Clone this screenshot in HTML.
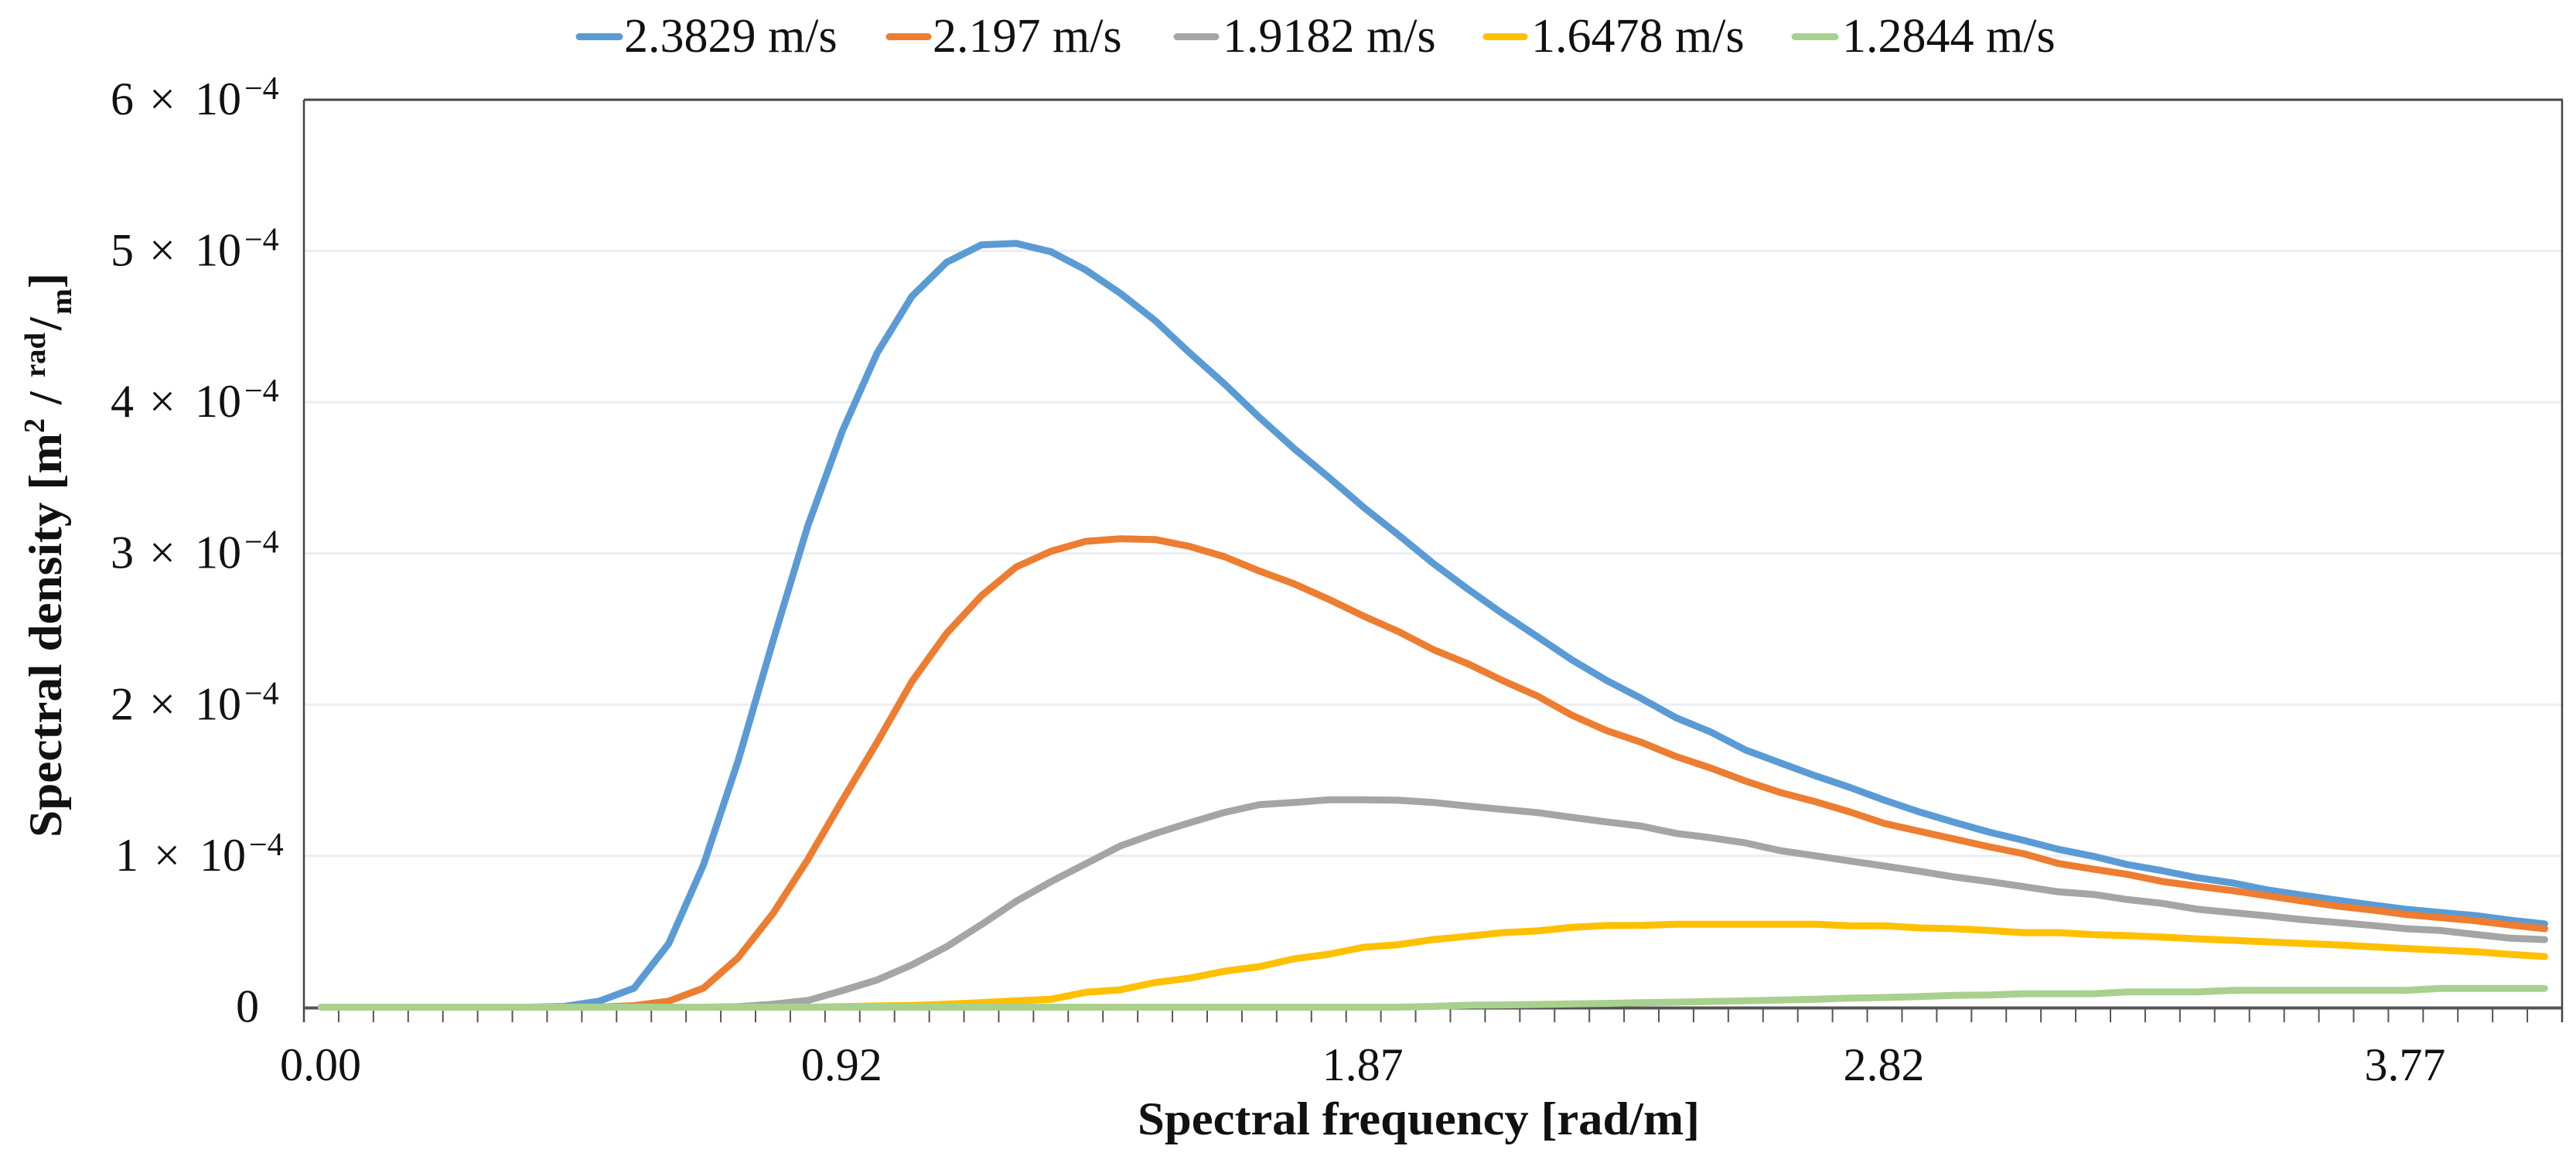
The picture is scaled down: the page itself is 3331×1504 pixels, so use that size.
<!DOCTYPE html>
<html lang="en">
<head>
<meta charset="utf-8">
<title>Spectral density vs spectral frequency</title>
<style>
html,body{margin:0;padding:0;background:#fff;}
svg{display:block;}
text{font-family:"Liberation Serif",serif;fill:#111;}
</style>
</head>
<body>
<svg id="chart" xmlns="http://www.w3.org/2000/svg" width="3331" height="1504" viewBox="0 0 3331 1504">
  <rect x="0" y="0" width="3331" height="1504" fill="#ffffff"/>
  <g id="grid"></g>
  <g id="axes"></g>
  <g id="series"></g>
  <g id="ylabels"></g>
  <g id="xlabels"></g>

  <g>
    <g>
      <line x1="749" x2="801" y1="47.5" y2="47.5" stroke="#5b9bd5" stroke-width="9" stroke-linecap="round"/>
      <text x="807" y="67" font-size="62">2.3829 m/s</text>
    </g>
    <g>
      <line x1="1150" x2="1200" y1="47.5" y2="47.5" stroke="#ed7d31" stroke-width="9" stroke-linecap="round"/>
      <text x="1206" y="67" font-size="62">2.197 m/s</text>
    </g>
    <g>
      <line x1="1522" x2="1572" y1="47.5" y2="47.5" stroke="#a5a5a5" stroke-width="9" stroke-linecap="round"/>
      <text x="1581" y="67" font-size="62">1.9182 m/s</text>
    </g>
    <g>
      <line x1="1922" x2="1971" y1="47.5" y2="47.5" stroke="#ffc000" stroke-width="9" stroke-linecap="round"/>
      <text x="1980" y="67" font-size="62">1.6478 m/s</text>
    </g>
    <g>
      <line x1="2321" x2="2373" y1="47.5" y2="47.5" stroke="#a9d18e" stroke-width="9" stroke-linecap="round"/>
      <text x="2382" y="67" font-size="62">1.2844 m/s</text>
    </g>
  </g>

  <text x="1471" y="1467" font-size="60" font-weight="bold" textLength="727" lengthAdjust="spacingAndGlyphs">Spectral frequency [rad/m]</text>

  <g transform="translate(79,1083) rotate(-90)" font-weight="bold">
    <text x="0" y="0" font-size="60" font-weight="bold" textLength="523" lengthAdjust="spacingAndGlyphs">Spectral density [m</text>
    <text x="523" y="-22" font-size="38" font-weight="bold">2</text>
    <text x="560" y="0" font-size="60" font-weight="bold">/</text>
    <text x="595" y="-21" font-size="38" font-weight="bold" textLength="58" lengthAdjust="spacingAndGlyphs">rad</text>
    <text x="656" y="0" font-size="60" font-weight="bold">/</text>
    <text x="676" y="13" font-size="38" font-weight="bold" textLength="34" lengthAdjust="spacingAndGlyphs">m</text>
    <text x="710" y="0" font-size="60" font-weight="bold">]</text>
  </g>
</svg>

<script>
var categoryCount = 65;
var xLabelIndexes = [0, 15, 30, 45, 60];
var xLabelTexts = ['0.00', '0.92', '1.87', '2.82', '3.77'];
var yTickValues = [0, 1, 2, 3, 4, 5, 6];

var blueValues = [0,0,0,0,0,0,0,0.005,0.04,0.125,0.42,0.94,1.63,2.42,3.18,3.81,4.325,4.70,4.925,5.04,5.05,4.995,4.875,4.72,4.54,4.325,4.12,3.90,3.694,3.503,3.305,3.123,2.935,2.765,2.603,2.45,2.296,2.16,2.041,1.913,1.819,1.70,1.615,1.53,1.453,1.368,1.291,1.223,1.158,1.103,1.044,0.998,0.942,0.902,0.856,0.822,0.776,0.742,0.708,0.677,0.647,0.626,0.606,0.575,0.55];
var orangeValues = [0,0,0,0,0,0,0,0,0,0.01,0.04,0.126,0.327,0.619,0.975,1.368,1.751,2.153,2.472,2.72,2.91,3.014,3.08,3.097,3.092,3.046,2.978,2.884,2.799,2.697,2.586,2.484,2.365,2.271,2.16,2.058,1.93,1.828,1.751,1.657,1.581,1.495,1.419,1.359,1.291,1.214,1.163,1.112,1.061,1.015,0.95,0.913,0.878,0.831,0.80,0.771,0.737,0.703,0.669,0.643,0.613,0.592,0.572,0.544,0.519];
var greyValues = [0,0,0,0,0,0,0,0,0,0,0,0,0.003,0.02,0.044,0.11,0.18,0.28,0.40,0.546,0.70,0.829,0.948,1.066,1.148,1.22,1.288,1.339,1.354,1.371,1.371,1.368,1.354,1.33,1.308,1.287,1.255,1.225,1.197,1.149,1.12,1.086,1.035,1.001,0.967,0.933,0.899,0.861,0.831,0.797,0.763,0.746,0.711,0.686,0.648,0.626,0.604,0.58,0.561,0.541,0.519,0.507,0.481,0.456,0.447];
var yellowValues = [0,0,0,0,0,0,0,0,0,0,0,0,0,0,0,0.004,0.008,0.012,0.02,0.03,0.042,0.052,0.098,0.115,0.163,0.192,0.238,0.268,0.32,0.35,0.396,0.413,0.447,0.469,0.493,0.504,0.528,0.54,0.541,0.548,0.548,0.548,0.548,0.548,0.538,0.538,0.524,0.519,0.507,0.493,0.493,0.48,0.473,0.463,0.452,0.442,0.432,0.422,0.412,0.40,0.388,0.377,0.367,0.349,0.335];
var greenValues = [0,0,0,0,0,0,0,0,0,0,0,0,0,0,0,0,0,0,0,0,0,0,0,0,0,0,0,0,0,0,0,0,0.005,0.013,0.015,0.018,0.022,0.025,0.03,0.033,0.038,0.042,0.047,0.052,0.06,0.064,0.07,0.078,0.081,0.089,0.089,0.089,0.101,0.101,0.101,0.111,0.111,0.111,0.111,0.111,0.111,0.124,0.124,0.124,0.124];

var SVGNS = 'http://www.w3.org/2000/svg';
var plotLeft = 393, plotRight = 3313, plotTop = 129, axisBottom = 1303.5;
var zeroY = 1302.5, unitY = 195.6;
var step = (plotRight - plotLeft) / categoryCount;

function xPos(i) { return plotLeft + step * (i + 0.5); }
function yPos(v) { return zeroY - unitY * v; }

function mk(parentId, tag, attrs) {
  var el = document.createElementNS(SVGNS, tag);
  for (var k in attrs) { el.setAttribute(k, attrs[k]); }
  if (parentId) { document.getElementById(parentId).appendChild(el); }
  return el;
}

yTickValues.forEach(function (v) {
  if (v === 0 || v === 6) { return; }
  var g = mk('grid', 'line', { x1: plotLeft, x2: plotRight, y1: yPos(v), y2: yPos(v), stroke: '#eceef3', 'stroke-width': 3 });
  
  
});

var topAxis = mk('axes', 'line', { x1: plotLeft, x2: plotRight + 1, y1: plotTop, y2: plotTop, stroke: '#444', 'stroke-width': 3 });


var leftAxis = mk('axes', 'line', { x1: plotLeft, x2: plotLeft, y1: plotTop, y2: 1322, stroke: '#444', 'stroke-width': 2.5 });


var rightAxis = mk('axes', 'line', { x1: plotRight, x2: plotRight, y1: plotTop, y2: 1322, stroke: '#444', 'stroke-width': 2.5 });


var bottomAxis = mk('axes', 'line', { x1: plotLeft, x2: plotRight, y1: axisBottom, y2: axisBottom, stroke: '#555', 'stroke-width': 4 });



for (var t = 1; t < categoryCount; t++) {
  var tick = mk('axes', 'line', { x1: plotLeft + step * t, x2: plotLeft + step * t, y1: axisBottom, y2: 1322, stroke: '#555', 'stroke-width': 2 });
  
  
}

function drawSeries(values, color, name) {
  var pts = values.map(function (v, i) { return xPos(i).toFixed(1) + ',' + yPos(v).toFixed(1); }).join(' ');
  var line = mk('series', 'polyline', { points: pts, fill: 'none', stroke: color, 'stroke-width': 9, 'stroke-linejoin': 'round', 'stroke-linecap': 'round' });
  
  
}
drawSeries(blueValues, '#5b9bd5', 'series-2-3829');
drawSeries(orangeValues, '#ed7d31', 'series-2-197');
drawSeries(greyValues, '#a5a5a5', 'series-1-9182');
drawSeries(yellowValues, '#ffc000', 'series-1-6478');
drawSeries(greenValues, '#a9d18e', 'series-1-2844');

xLabelTexts.forEach(function (txt, n) {
  var lab = mk('xlabels', 'text', { x: xPos(xLabelIndexes[n]) - 1, y: 1397, 'font-size': 60, 'text-anchor': 'middle' });
  lab.textContent = txt;
  
  
});

yTickValues.forEach(function (v) {
  var base = yPos(v) + 19;
  var lab = mk('ylabels', 'text', { y: base, 'font-size': 60 });
  
  
  if (v === 0) {
    lab.setAttribute('x', 305);
    lab.textContent = '0';
    return;
  }
  var shift = v === 1 ? 6 : 0;
  var a = mk(null, 'tspan', { x: 143 + shift });
  a.textContent = String(v);
  var b = mk(null, 'tspan', { x: 193 + shift });
  b.textContent = '\u00d7';
  var c = mk(null, 'tspan', { x: 252 + shift });
  c.textContent = '10';
  var d = mk(null, 'tspan', { x: 316 + shift, dy: -20, 'font-size': 42 });
  d.textContent = '\u22124';
  lab.appendChild(a);
  lab.appendChild(b);
  lab.appendChild(c);
  lab.appendChild(d);
});
</script>
</body>
</html>
